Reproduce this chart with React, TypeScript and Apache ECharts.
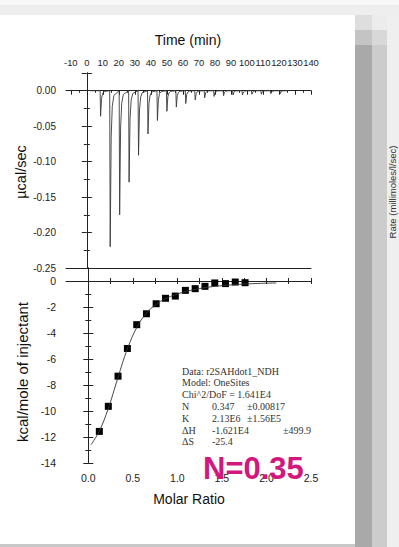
import React, { useEffect, useRef } from "react";
import * as echarts from "echarts";

// ---- Top panel (raw thermogram) ----
const timeLabelValues = [-10, 0, 10, 20, 30, 40, 50, 60, 70, 80, 90, 100, 110, 120, 130, 140];
const timeMinorTicks = [-10, -5, 0, 5, 10, 15, 20, 25, 30, 35, 40, 45, 50, 55, 60, 65, 70, 75, 80, 85, 90, 95, 100, 105, 110, 115, 120, 125, 130, 135, 140];
const injectionTimes = [8.3, 14.3, 20.2, 26.1, 32.0, 37.9, 43.8, 49.7, 55.6, 61.5, 67.4, 73.3, 79.2, 85.1, 91.0, 96.9, 102.8, 108.7, 114.6, 120.5];
const peakMinima = [-0.036, -0.22, -0.175, -0.129, -0.091, -0.061, -0.042, -0.029, -0.023, -0.018, -0.013, -0.010, -0.008, -0.007, -0.006, -0.006, -0.005, -0.005, -0.004, -0.004];
const traceStartTime = 2;
const traceEndTime = 125.6;

// ---- Bottom panel (integrated heats) ----
const molarRatio = [0.124, 0.225, 0.334, 0.439, 0.544, 0.653, 0.762, 0.867, 0.977, 1.09, 1.2, 1.31, 1.42, 1.54, 1.65, 1.76];
const heatPerMole = [-11.57, -9.64, -7.32, -5.19, -3.36, -2.52, -1.75, -1.33, -1.16, -0.72, -0.59, -0.41, -0.15, -0.2, -0.08, -0.13];
const fitRatio = [0.03, 0.12, 0.22, 0.33, 0.44, 0.55, 0.65, 0.76, 0.87, 0.98, 1.1, 1.3, 1.5, 1.7, 1.9, 2.11];
const fitHeat = [-12.6, -11.6, -9.9, -7.5, -5.2, -3.5, -2.5, -1.8, -1.35, -1.05, -0.8, -0.52, -0.36, -0.26, -0.19, -0.15];
const ratioLabelValues = [0, 0.5, 1.0, 1.5, 2.0, 2.5];
const ratioTickValues = [0, 0.25, 0.5, 0.75, 1.0, 1.25, 1.5, 1.75, 2.0, 2.25, 2.5];

// ---- Fit report ----
const reportLines = ["Data: r2SAHdot1_NDH", "Model: OneSites", "Chi^2/DoF = 1.641E4"];
const paramNames = ["N", "K", "\u0394H", "\u0394S"];
const paramValues = ["0.347", "2.13E6", "-1.621E4", "-25.4"];
const paramErrors = ["\u00b10.00817", "\u00b11.56E5", "\u00b1499.9", ""];

const SANS = "Liberation Sans, Arial, sans-serif";
const SERIF = "Liberation Serif, Times New Roman, serif";
const AX = "#222";

export default function App() {
  const ref = useRef<HTMLDivElement>(null);

  useEffect(() => {
    if (!ref.current) return;
    const chart = echarts.init(ref.current, null, { renderer: "svg" });

    const trace: number[][] = [[traceStartTime, 0]];
    injectionTimes.forEach((t, i) => {
      const d = peakMinima[i];
      trace.push([t, 0], [t + 0.3, d], [t + 0.9, d * 0.3], [t + 1.6, d * 0.1], [t + 2.6, d * 0.03]);
    });
    trace.push([traceEndTime, 0]);

    const axisLine = { show: true, lineStyle: { color: AX, width: 1 } };
    const tickStyle = { color: AX, width: 1 };

    const graphics: any[] = [
      { type: "rect", z: -10, shape: { x: 0, y: 0, width: 399, height: 5 }, style: { fill: "#f8f8f8" } },
      { type: "rect", z: -10, shape: { x: 0, y: 5, width: 399, height: 10 }, style: { fill: "#eeeeee" } },
      { type: "rect", z: -10, shape: { x: 355, y: 15, width: 17, height: 15 }, style: { fill: "#dedede" } },
      { type: "rect", z: -10, shape: { x: 355, y: 30, width: 17, height: 15 }, style: { fill: "#c4c4c4" } },
      { type: "rect", z: -10, shape: { x: 355, y: 45, width: 17, height: 502 }, style: { fill: "#a9a9a9" } },
      { type: "rect", z: -10, shape: { x: 372, y: 15, width: 15, height: 15 }, style: { fill: "#ececec" } },
      { type: "rect", z: -10, shape: { x: 372, y: 30, width: 15, height: 15 }, style: { fill: "#d8d8d8" } },
      { type: "rect", z: -10, shape: { x: 372, y: 45, width: 15, height: 502 }, style: { fill: "#cccccc" } },
      { type: "rect", z: -10, shape: { x: 387, y: 15, width: 12, height: 532 }, style: { fill: "#efefef" } },
      { type: "rect", z: -10, shape: { x: 0, y: 544, width: 355, height: 3 }, style: { fill: "#c8c8c8" } },
      {
        type: "text", z: 5, x: 392, y: 192, rotation: Math.PI / 2,
        style: { text: "Rate (millimoles/l/sec)", fill: "#333", font: `9.5px ${SANS}`, align: "center", verticalAlign: "middle" },
      },
      { type: "text", z: 5, x: 188, y: 40, style: { text: "Time (min)", fill: "#111", font: `14px ${SANS}`, align: "center", verticalAlign: "middle" } },
      { type: "text", z: 5, x: 189, y: 499, style: { text: "Molar Ratio", fill: "#111", font: `14px ${SANS}`, align: "center", verticalAlign: "middle" } },
      {
        type: "text", z: 5, x: 21, y: 172, rotation: Math.PI / 2,
        style: { text: "\u00b5cal/sec", fill: "#111", font: `14.5px ${SANS}`, align: "center", verticalAlign: "middle" },
      },
      {
        type: "text", z: 5, x: 22, y: 372, rotation: Math.PI / 2,
        style: { text: "kcal/mole of injectant", fill: "#111", font: `15px ${SANS}`, align: "center", verticalAlign: "middle" },
      },
      {
        type: "text", z: 100, x: 203, y: 468,
        style: { text: "N=0.35", fill: "#d2187e", font: `bold 31px ${SANS}`, align: "left", verticalAlign: "middle" },
      },
    ];

    reportLines.forEach((s, i) => {
      graphics.push({ type: "text", z: 5, x: 182, y: 371 + i * 11.8, style: { text: s, fill: "#333", font: `10px ${SERIF}`, verticalAlign: "middle" } });
    });
    paramNames.forEach((s, i) => {
      const y = 406.5 + i * 11.8;
      graphics.push({ type: "text", z: 5, x: 182, y, style: { text: s, fill: "#333", font: `10px ${SERIF}`, verticalAlign: "middle" } });
      graphics.push({ type: "text", z: 5, x: 212, y, style: { text: paramValues[i], fill: "#333", font: `10px ${SERIF}`, verticalAlign: "middle" } });
      if (paramErrors[i]) {
        const ex = i === 2 ? 283 : 247;
        graphics.push({ type: "text", z: 5, x: ex, y, style: { text: paramErrors[i], fill: "#333", font: `10px ${SERIF}`, verticalAlign: "middle" } });
      }
    });

    const option: any = {
      animation: false,
      backgroundColor: "#ffffff",
      grid: [
        { left: 66, top: 73, width: 245, height: 195 },
        { left: 66, top: 268, width: 245, height: 195 },
      ],
      xAxis: [
        {
          gridIndex: 0, type: "value", position: "top", min: -13, max: 140,
          axisLine,
          axisTick: { show: true, inside: true, length: 4, customValues: timeLabelValues, lineStyle: tickStyle },
          axisLabel: {
            customValues: timeLabelValues, margin: 6, fontSize: 9.4, color: AX, fontFamily: SANS,
            showMinLabel: true, showMaxLabel: true, hideOverlap: false,
          },
          splitLine: { show: false },
        },
        {
          gridIndex: 0, type: "value", position: "top", min: -13, max: 140,
          axisLine: { show: false },
          axisTick: { show: true, inside: true, length: 2, customValues: timeMinorTicks, lineStyle: tickStyle },
          axisLabel: { show: false },
          splitLine: { show: false },
        },
        {
          gridIndex: 0, type: "value", position: "bottom", min: -13, max: 140,
          axisLine, axisTick: { show: false }, axisLabel: { show: false }, splitLine: { show: false },
        },
        {
          gridIndex: 1, type: "value", position: "bottom", min: -0.25, max: 2.5,
          axisLine,
          axisTick: { show: true, inside: true, length: 3, customValues: ratioTickValues, lineStyle: tickStyle },
          axisLabel: {
            customValues: ratioLabelValues, margin: 9, fontSize: 10.5, color: AX, fontFamily: SANS,
            showMaxLabel: true, formatter: (v: number) => v.toFixed(1),
          },
          splitLine: { show: false },
        },
        {
          gridIndex: 1, type: "value", position: "top", min: -0.25, max: 2.5,
          axisLine: { show: false },
          axisTick: { show: true, inside: true, length: 3, customValues: ratioTickValues, lineStyle: tickStyle },
          axisLabel: { show: false }, splitLine: { show: false },
        },
      ],
      yAxis: [
        {
          gridIndex: 0, type: "value", position: "left", min: -0.25, max: 0.025, interval: 0.05,
          axisLine,
          axisTick: { show: true, length: 5, lineStyle: tickStyle },
          minorTick: { show: true, splitNumber: 2, length: 3, lineStyle: tickStyle },
          axisLabel: { margin: 10, fontSize: 10, color: AX, fontFamily: SANS, showMaxLabel: false, formatter: (v: number) => v.toFixed(2) },
          splitLine: { show: false },
        },
        {
          gridIndex: 0, type: "value", position: "right", min: -0.25, max: 0.025, interval: 0.05,
          axisLine,
          axisTick: { show: true, length: 5, lineStyle: tickStyle },
          minorTick: { show: true, splitNumber: 2, length: 3, lineStyle: tickStyle },
          axisLabel: { show: false }, splitLine: { show: false },
        },
        {
          gridIndex: 1, type: "value", position: "left", min: -14, max: 1, interval: 2,
          axisLine,
          axisTick: { show: true, length: 5, lineStyle: tickStyle },
          minorTick: { show: true, splitNumber: 2, length: 3, lineStyle: tickStyle },
          axisLabel: { margin: 10, fontSize: 10.5, color: AX, fontFamily: SANS, showMaxLabel: false },
          splitLine: { show: false },
        },
        {
          gridIndex: 1, type: "value", position: "right", min: -14, max: 1, interval: 2,
          axisLine,
          axisTick: { show: true, length: 5, lineStyle: tickStyle },
          minorTick: { show: true, splitNumber: 2, length: 3, lineStyle: tickStyle },
          axisLabel: { show: false }, splitLine: { show: false },
        },
      ],
      series: [
        {
          type: "line", xAxisIndex: 0, yAxisIndex: 0, data: trace,
          showSymbol: false, symbol: "none",
          lineStyle: { color: "#3a3a3a", width: 0.9 },
        },
        {
          type: "line", xAxisIndex: 3, yAxisIndex: 2,
          data: fitRatio.map((x, i) => [x, fitHeat[i]]),
          smooth: 0.4, showSymbol: false, symbol: "none",
          lineStyle: { color: "#333", width: 0.9 },
        },
        {
          type: "scatter", xAxisIndex: 3, yAxisIndex: 2,
          data: molarRatio.map((x, i) => [x, heatPerMole[i]]),
          symbol: "rect", symbolSize: 7,
          itemStyle: { color: "#000", opacity: 1 },
        },
      ],
      graphic: graphics,
    };

    chart.setOption(option);
    return () => chart.dispose();
  }, []);

  return <div ref={ref} style={{ position: "absolute", left: 0, top: 0, width: 399, height: 547 }} />;
}
